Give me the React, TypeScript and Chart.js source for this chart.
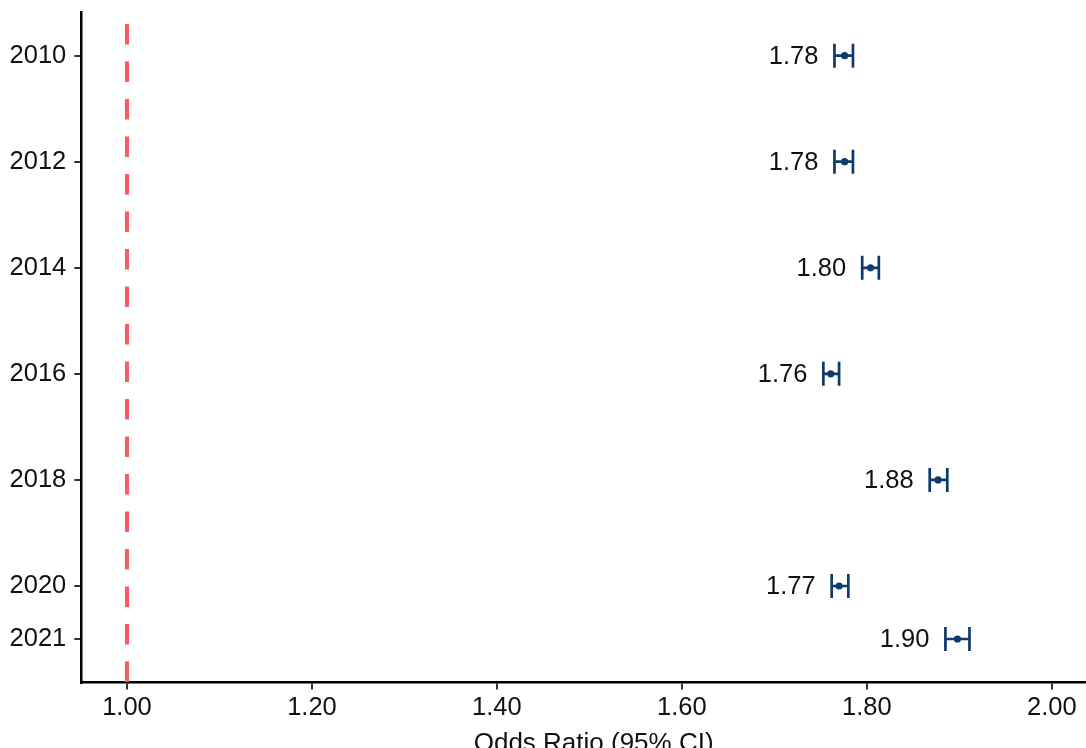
import React, { useEffect, useRef } from 'react';
import { Chart, registerables } from 'chart.js';

Chart.register(...registerables);

const years = [2010, 2012, 2014, 2016, 2018, 2020, 2021];
const oddsRatio = [1.776, 1.776, 1.804, 1.761, 1.877, 1.770, 1.898];
const lowerCI = [1.765, 1.765, 1.795, 1.753, 1.868, 1.762, 1.885];
const upperCI = [1.785, 1.785, 1.813, 1.770, 1.887, 1.780, 1.911];
const xTicks = [1.0, 1.2, 1.4, 1.6, 1.8, 2.0];
const referenceValue = 1.0;
const xTitle = 'Odds Ratio (95% CI)';

const NAVY = '#0f3a6c';
const RED = '#ff5a5f';
const FONT = "'Liberation Sans', Arial, Helvetica, sans-serif";

const forestPlugin = {
  id: 'forest',
  beforeDatasetsDraw(chart: any) {
    const { ctx, chartArea, scales } = chart;
    const xs = scales.x;
    const ys = scales.y;
    // reference dashed line
    const rx = xs.getPixelForValue(referenceValue);
    ctx.save();
    ctx.strokeStyle = RED;
    ctx.lineWidth = 4;
    ctx.setLineDash([20.5, 17]);
    ctx.lineDashOffset = 26.2;
    ctx.beginPath();
    ctx.moveTo(rx, chartArea.top);
    ctx.lineTo(rx, chartArea.bottom);
    ctx.stroke();
    ctx.restore();

    // error bars + labels
    ctx.save();
    ctx.strokeStyle = NAVY;
    ctx.lineWidth = 2.7;
    ctx.lineCap = 'butt';
    const cap = 12;
    years.forEach((yr, i) => {
      const y = ys.getPixelForValue(yr);
      const xl = xs.getPixelForValue(lowerCI[i]);
      const xu = xs.getPixelForValue(upperCI[i]);
      ctx.beginPath();
      ctx.moveTo(xl, y);
      ctx.lineTo(xu, y);
      ctx.moveTo(xl, y - cap);
      ctx.lineTo(xl, y + cap);
      ctx.moveTo(xu, y - cap);
      ctx.lineTo(xu, y + cap);
      ctx.stroke();
      ctx.fillStyle = '#111';
      ctx.font = `25.5px ${FONT}`;
      ctx.textAlign = 'right';
      ctx.textBaseline = 'middle';
      ctx.fillText(oddsRatio[i].toFixed(2), xl - 16, y + 1);
    });
    ctx.restore();
  },
  afterDraw(chart: any) {
    const { ctx, chartArea } = chart;
    ctx.save();
    ctx.fillStyle = '#111';
    ctx.font = `26px ${FONT}`;
    ctx.textAlign = 'center';
    ctx.textBaseline = 'alphabetic';
    ctx.fillText(xTitle, (chartArea.left + chartArea.right) / 2 + 10, 751);
    ctx.restore();
  },
};

const zeroPad = (s: any) => {
  s.paddingTop = 0;
  s.paddingBottom = 0;
  s.paddingLeft = 0;
  s.paddingRight = 0;
};

export default function App() {
  const ref = useRef<HTMLCanvasElement | null>(null);
  useEffect(() => {
    if (!ref.current) return;
    const chart = new Chart(ref.current, {
      type: 'scatter',
      data: {
        datasets: [
          {
            data: years.map((y, i) => ({ x: oddsRatio[i], y })),
            pointRadius: 3.6,
            pointHoverRadius: 3.6,
            backgroundColor: NAVY,
            borderWidth: 0,
          },
        ],
      },
      options: {
        animation: false,
        responsive: false,
        devicePixelRatio: 1,
        layout: { autoPadding: false, padding: { top: 12.7, left: 0, right: 0, bottom: 0 } },
        plugins: { legend: { display: false }, tooltip: { enabled: false } },
        scales: {
          x: {
            type: 'linear',
            min: 0.9506,
            max: 2.037,
            afterBuildTicks: (s: any) => {
              s.ticks = xTicks.map((v) => ({ value: v }));
            },
            afterFit: (s: any) => {
              s.height = 65.5;
              zeroPad(s);
            },
            ticks: {
              callback: (v: any) => Number(v).toFixed(2),
              font: { family: FONT, size: 25.5 },
              color: '#111',
              padding: 3,
              maxRotation: 0,
              autoSkip: false,
            },
            grid: {
              display: true,
              drawOnChartArea: false,
              drawTicks: true,
              tickLength: 7,
              tickColor: '#333',
              lineWidth: 2,
            },
            border: { display: true, color: '#000', width: 2.5 },
            title: { display: false },
          },
          y: {
            type: 'linear',
            reverse: true,
            min: 2009.19,
            max: 2021.82,
            afterBuildTicks: (s: any) => {
              s.ticks = years.map((v) => ({ value: v }));
            },
            afterFit: (s: any) => {
              s.width = 81.3;
              zeroPad(s);
            },
            ticks: {
              callback: (v: any) => String(v),
              font: { family: FONT, size: 25.5 },
              color: '#111',
              padding: 8,
              autoSkip: false,
            },
            grid: {
              display: true,
              drawOnChartArea: false,
              drawTicks: true,
              tickLength: 7,
              tickColor: '#333',
              lineWidth: 2,
            },
            border: { display: true, color: '#000', width: 2.5 },
          },
        },
      },
      plugins: [forestPlugin],
    });
    return () => chart.destroy();
  }, []);
  return (
    <div style={{ position: 'fixed', left: 0, top: 0, width: 1086, height: 748, background: '#fff' }}>
      <canvas ref={ref} width={1086} height={748} style={{ display: 'block', width: 1086, height: 748 }} />
    </div>
  );
}
